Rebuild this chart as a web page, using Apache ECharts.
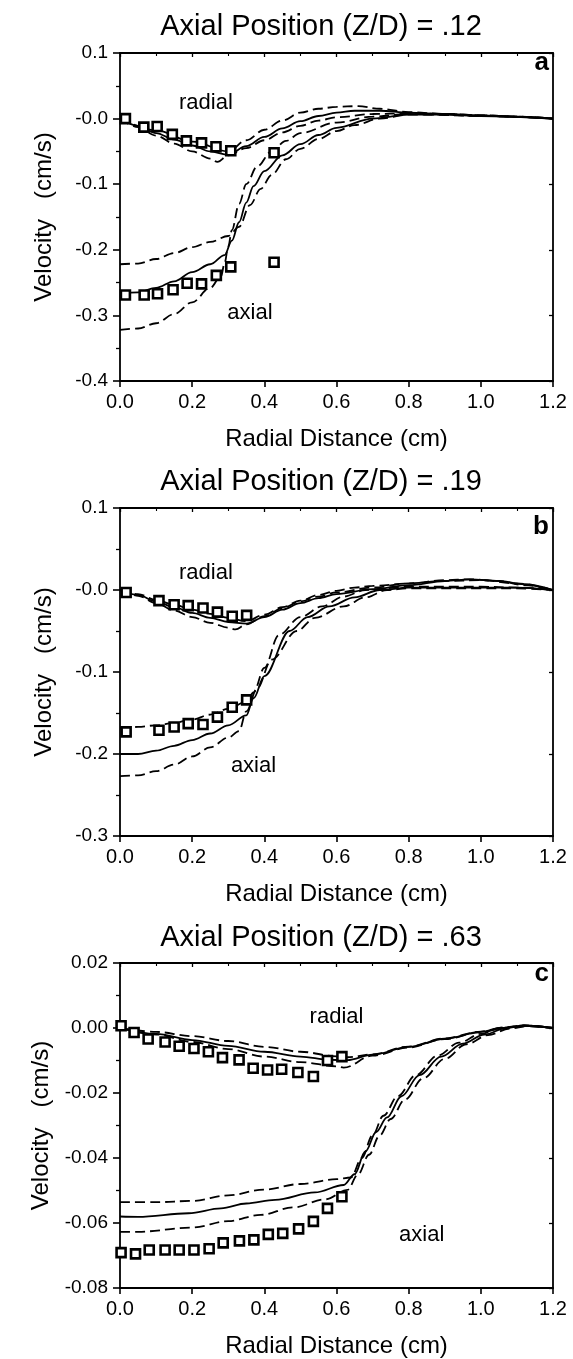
<!DOCTYPE html>
<html>
<head>
<meta charset="utf-8">
<title>Velocity profiles</title>
<script src="https://cdn.jsdelivr.net/npm/echarts@6/dist/echarts.min.js"></script>
<style>
  html, body { margin: 0; padding: 0; background: #fff; }
  #chart { width: 573px; height: 1359px; }
</style>
</head>
<body>
<div id="chart"></div>
<script>
// ---------- data ----------
const titles = ['Axial Position (Z/D) = .12', 'Axial Position (Z/D) = .19', 'Axial Position (Z/D) = .63'];
const panelLetters = ['a', 'b', 'c'];
const xName = 'Radial Distance (cm)';
const yName = 'Velocity   (cm/s)';

const xTickLabels = ['0.0', '0.2', '0.4', '0.6', '0.8', '1.0', '1.2'];
const yTickLabelsA = ['-0.4', '-0.3', '-0.2', '-0.1', '-0.0', '0.1'];
const yTickLabelsB = ['-0.3', '-0.2', '-0.1', '-0.0', '0.1'];
const yTickLabelsC = ['-0.08', '-0.06', '-0.04', '-0.02', '0.00', '0.02'];

// panel a  (Z/D = .12)
const aRadialPts = [[0.015, 0.0], [0.066, -0.013], [0.103, -0.012], [0.145, -0.024], [0.184, -0.034],
  [0.226, -0.037], [0.266, -0.043], [0.307, -0.049]];
const aAxialPts = [[0.015, -0.269], [0.067, -0.269], [0.104, -0.267], [0.147, -0.261], [0.186, -0.251],
  [0.226, -0.252], [0.267, -0.239], [0.307, -0.226], [0.427, -0.219], [0.427, -0.052]];
const aRadialSolid = [[0, 0], [0.05, -0.011], [0.1, -0.022], [0.15, -0.032], [0.2, -0.041], [0.25, -0.05],
  [0.3, -0.055], [0.35, -0.042], [0.4, -0.028], [0.45, -0.015], [0.5, -0.004], [0.55, 0.004], [0.6, 0.009],
  [0.65, 0.012], [0.72, 0.012], [0.8, 0.009], [0.9, 0.007], [1.0, 0.005], [1.1, 0.003], [1.2, 0]];
const aRadialDashHi = [[0, 0], [0.1, -0.018], [0.2, -0.035], [0.3, -0.05], [0.35, -0.033], [0.4, -0.017],
  [0.45, -0.003], [0.5, 0.009], [0.55, 0.015], [0.6, 0.018], [0.66, 0.019], [0.72, 0.015], [0.8, 0.01],
  [0.9, 0.007], [1.0, 0.005], [1.1, 0.003], [1.2, 0]];
const aRadialDashLo = [[0, 0], [0.05, -0.013], [0.1, -0.026], [0.15, -0.038], [0.2, -0.05], [0.25, -0.061],
  [0.27, -0.066], [0.3, -0.056], [0.35, -0.045], [0.4, -0.033], [0.45, -0.021], [0.5, -0.011], [0.55, -0.003],
  [0.6, 0.002], [0.7, 0.007], [0.8, 0.008], [0.9, 0.007], [1.0, 0.005], [1.1, 0.003], [1.2, 0]];
const aAxialSolid = [[0, -0.267], [0.05, -0.265], [0.1, -0.258], [0.15, -0.248], [0.2, -0.234], [0.25, -0.222],
  [0.29, -0.208], [0.31, -0.186], [0.33, -0.158], [0.35, -0.128], [0.37, -0.103], [0.4, -0.08], [0.45, -0.056],
  [0.5, -0.039], [0.55, -0.025], [0.6, -0.014], [0.7, 0.0], [0.8, 0.006], [0.9, 0.006], [1.0, 0.004], [1.2, 0]];
const aAxialDashHi = [[0, -0.222], [0.05, -0.221], [0.1, -0.214], [0.15, -0.205], [0.2, -0.196], [0.25, -0.188],
  [0.3, -0.179], [0.33, -0.165], [0.36, -0.132], [0.39, -0.107], [0.42, -0.086], [0.46, -0.062], [0.5, -0.046],
  [0.55, -0.031], [0.6, -0.019], [0.65, -0.01], [0.72, 0.0], [0.8, 0.006], [0.9, 0.006], [1.0, 0.004], [1.2, 0]];
const aAxialDashLo = [[0, -0.322], [0.05, -0.32], [0.1, -0.312], [0.15, -0.298], [0.2, -0.28], [0.25, -0.258],
  [0.28, -0.24], [0.29, -0.22], [0.3, -0.195], [0.31, -0.17], [0.33, -0.13], [0.35, -0.1], [0.38, -0.073],
  [0.42, -0.05], [0.46, -0.034], [0.5, -0.022], [0.6, -0.006], [0.7, 0.003], [0.8, 0.007], [1.0, 0.004], [1.2, 0]];
const aNotes = [['radial', 0.238, 0.024], ['axial', 0.36, -0.296]];

// panel b  (Z/D = .19)
const bRadialPts = [[0.017, -0.003], [0.108, -0.013], [0.15, -0.018], [0.189, -0.019], [0.23, -0.022],
  [0.27, -0.027], [0.311, -0.032], [0.351, -0.031]];
const bAxialPts = [[0.017, -0.173], [0.108, -0.171], [0.15, -0.167], [0.189, -0.163], [0.23, -0.164],
  [0.27, -0.155], [0.311, -0.143], [0.351, -0.134]];
const bRadialSolid = [[0, 0], [0.05, -0.006], [0.1, -0.014], [0.15, -0.021], [0.2, -0.028], [0.25, -0.034],
  [0.3, -0.039], [0.35, -0.041], [0.4, -0.033], [0.45, -0.024], [0.5, -0.016], [0.55, -0.01], [0.6, -0.005],
  [0.7, 0.001], [0.8, 0.006], [0.9, 0.011], [0.97, 0.013], [1.05, 0.011], [1.12, 0.007], [1.2, 0]];
const bRadialDashHi = [[0, 0], [0.05, -0.005], [0.1, -0.012], [0.15, -0.018], [0.2, -0.024], [0.25, -0.029],
  [0.3, -0.034], [0.35, -0.038], [0.4, -0.03], [0.45, -0.021], [0.5, -0.013], [0.55, -0.006], [0.6, -0.001],
  [0.65, 0.003], [0.7, 0.005], [0.8, 0.008], [0.9, 0.011], [1.0, 0.012], [1.1, 0.008], [1.2, 0]];
const bRadialDashLo = [[0, 0], [0.05, -0.007], [0.1, -0.016], [0.15, -0.025], [0.2, -0.033], [0.25, -0.04],
  [0.3, -0.046], [0.32, -0.048], [0.35, -0.042], [0.4, -0.032], [0.45, -0.022], [0.5, -0.014], [0.55, -0.008],
  [0.6, -0.003], [0.7, 0.003], [0.8, 0.008], [0.9, 0.012], [0.97, 0.013], [1.05, 0.011], [1.12, 0.006], [1.2, 0]];
const bAxialSolid = [[0, -0.2], [0.05, -0.2], [0.1, -0.196], [0.15, -0.19], [0.2, -0.183], [0.25, -0.175],
  [0.3, -0.165], [0.35, -0.153], [0.37, -0.132], [0.4, -0.105], [0.47, -0.05], [0.52, -0.033], [0.58, -0.02],
  [0.65, -0.009], [0.72, 0.0], [0.8, 0.003], [1.0, 0.003], [1.1, 0.003], [1.2, 0]];
const bAxialDashHi = [[0, -0.168], [0.05, -0.167], [0.1, -0.165], [0.15, -0.162], [0.2, -0.158], [0.25, -0.152],
  [0.3, -0.145], [0.35, -0.136], [0.37, -0.125], [0.4, -0.095], [0.44, -0.055], [0.5, -0.033], [0.56, -0.02],
  [0.62, -0.008], [0.68, 0.0], [0.8, 0.004], [1.0, 0.004], [1.1, 0.003], [1.2, 0]];
const bAxialDashLo = [[0, -0.227], [0.05, -0.226], [0.1, -0.221], [0.15, -0.213], [0.2, -0.203], [0.25, -0.192],
  [0.3, -0.18], [0.33, -0.172], [0.35, -0.148], [0.38, -0.12], [0.42, -0.085], [0.49, -0.05], [0.54, -0.034],
  [0.62, -0.02], [0.68, -0.009], [0.74, 0.0], [0.8, 0.002], [1.0, 0.002], [1.1, 0.002], [1.2, 0]];
const bNotes = [['radial', 0.238, 0.021], ['axial', 0.37, -0.215]];

// panel c  (Z/D = .63)
const cRadialPts = [[0.003, 0.0007], [0.039, -0.0014], [0.078, -0.0034], [0.125, -0.0043], [0.164, -0.0056],
  [0.205, -0.0063], [0.245, -0.0073], [0.284, -0.0091], [0.33, -0.0098], [0.369, -0.0124], [0.409, -0.0129],
  [0.448, -0.0127], [0.493, -0.0137], [0.536, -0.0149], [0.575, -0.01], [0.615, -0.0088]];
const cAxialPts = [[0.003, -0.0691], [0.043, -0.0695], [0.081, -0.0683], [0.125, -0.0683], [0.164, -0.0683],
  [0.205, -0.0683], [0.247, -0.0679], [0.286, -0.0661], [0.331, -0.0655], [0.371, -0.0652], [0.411, -0.0635],
  [0.451, -0.0632], [0.495, -0.0618], [0.536, -0.0595], [0.575, -0.0555], [0.615, -0.0519]];
const cRadialSolid = [[0, 0], [0.1, -0.0018], [0.2, -0.0037], [0.3, -0.0055], [0.4, -0.0073], [0.5, -0.0088],
  [0.58, -0.0098], [0.63, -0.0099], [0.7, -0.0082], [0.8, -0.0058], [0.9, -0.0033], [1.0, -0.0012],
  [1.06, 0.0], [1.12, 0.0007], [1.2, 0]];
const cRadialDashHi = [[0, 0], [0.1, -0.0012], [0.2, -0.0025], [0.3, -0.004], [0.4, -0.0058], [0.5, -0.0073],
  [0.6, -0.0087], [0.63, -0.009], [0.7, -0.0081], [0.8, -0.0057], [0.9, -0.0032], [1.0, -0.0011],
  [1.06, 0.0001], [1.12, 0.0008], [1.2, 0]];
const cRadialDashLo = [[0, 0], [0.1, -0.002], [0.2, -0.0043], [0.3, -0.0065], [0.4, -0.0088], [0.5, -0.0105],
  [0.6, -0.0118], [0.62, -0.0122], [0.7, -0.0085], [0.8, -0.006], [0.9, -0.0034], [1.0, -0.0013],
  [1.06, -0.0001], [1.12, 0.0006], [1.2, 0]];
const cAxialSolid = [[0, -0.058], [0.05, -0.0581], [0.19, -0.057], [0.28, -0.0555], [0.35, -0.054],
  [0.43, -0.0529], [0.54, -0.0506], [0.62, -0.0483], [0.65, -0.045], [0.68, -0.038], [0.71, -0.032],
  [0.74, -0.0275], [0.78, -0.021], [0.83, -0.0145], [0.89, -0.0088], [0.95, -0.0048], [1.01, -0.002],
  [1.07, 0.0], [1.12, 0.0007], [1.2, 0]];
const cAxialDashHi = [[0, -0.0536], [0.1, -0.0536], [0.2, -0.0532], [0.3, -0.0515], [0.4, -0.0497],
  [0.5, -0.048], [0.6, -0.0465], [0.64, -0.046], [0.67, -0.04], [0.7, -0.033], [0.73, -0.027], [0.77, -0.021],
  [0.82, -0.0145], [0.88, -0.0085], [0.94, -0.0045], [1.0, -0.0018], [1.06, 0.0002], [1.12, 0.0008], [1.2, 0]];
const cAxialDashLo = [[0, -0.0627], [0.05, -0.0627], [0.2, -0.0614], [0.3, -0.0594], [0.39, -0.0575],
  [0.48, -0.0552], [0.57, -0.0527], [0.63, -0.0498], [0.66, -0.045], [0.69, -0.039], [0.72, -0.033],
  [0.75, -0.028], [0.79, -0.022], [0.84, -0.0155], [0.9, -0.0095], [0.96, -0.005], [1.02, -0.0022],
  [1.08, -0.0002], [1.13, 0.0006], [1.2, 0]];
const cNotes = [['radial', 0.6, 0.0034], ['axial', 0.836, -0.0637]];

// ---------- layout ----------
const FONT = "'Liberation Sans', Arial, Helvetica, sans-serif";
const INK = '#000';
const gridTops = [53, 508, 963];
const gridHeights = [328, 328, 325];
const titleY = [27, 482, 938];
const letterY = [63, 527, 974];

const panels = [
  { yMin: -0.4, yMax: 0.1, yStep: 0.1, yLabels: yTickLabelsA,
    solid: [aRadialSolid, aAxialSolid], dashed: [aRadialDashHi, aRadialDashLo, aAxialDashHi, aAxialDashLo],
    pts: [aRadialPts, aAxialPts], notes: aNotes },
  { yMin: -0.3, yMax: 0.1, yStep: 0.1, yLabels: yTickLabelsB,
    solid: [bRadialSolid, bAxialSolid], dashed: [bRadialDashHi, bRadialDashLo, bAxialDashHi, bAxialDashLo],
    pts: [bRadialPts, bAxialPts], notes: bNotes },
  { yMin: -0.08, yMax: 0.02, yStep: 0.02, yLabels: yTickLabelsC,
    solid: [cRadialSolid, cAxialSolid], dashed: [cRadialDashHi, cRadialDashLo, cAxialDashHi, cAxialDashLo],
    pts: [cRadialPts, cAxialPts], notes: cNotes }
];

function pick(list, min, step) {
  return v => {
    const s = list[Math.round((v - min) / step)];
    return s === undefined ? '' : s;
  };
}

const chart = echarts.init(document.getElementById('chart'), null, { renderer: 'canvas' });

const grid = [], xAxis = [], yAxis = [], series = [], graphic = [];
const lineAxis = { show: true, onZero: false, lineStyle: { color: INK, width: 1.8 } };

panels.forEach((p, i) => {
  grid.push({ left: 120, right: 20, top: gridTops[i], height: gridHeights[i] });
});
// bottom / left axes first, then mirrored top / right borders
panels.forEach((p, i) => {
  xAxis.push({
    type: 'value', gridIndex: i, position: 'bottom', min: 0, max: 1.2, interval: 0.2,
    axisLine: lineAxis,
    axisTick: { show: true, length: 6, lineStyle: { color: INK, width: 1.6 } },
    splitLine: { show: false },
    axisLabel: { fontFamily: FONT, fontSize: 20, color: INK, margin: 11, formatter: pick(xTickLabels, 0, 0.2) },
    name: xName, nameLocation: 'middle', nameGap: 46,
    nameTextStyle: { fontFamily: FONT, fontSize: 24, color: INK }
  });
  yAxis.push({
    type: 'value', gridIndex: i, position: 'left', min: p.yMin, max: p.yMax, interval: p.yStep,
    axisLine: lineAxis,
    axisTick: { show: true, length: 7, lineStyle: { color: INK, width: 1.6 } },
    minorTick: { show: true, splitNumber: 2, length: 4, lineStyle: { color: INK, width: 1.3 } },
    splitLine: { show: false },
    axisLabel: { fontFamily: FONT, fontSize: 19, color: INK, margin: 12, formatter: pick(p.yLabels, p.yMin, p.yStep) },
    name: yName, nameLocation: 'middle', nameGap: 64,
    nameTextStyle: { fontFamily: FONT, fontSize: 24, color: INK }
  });
});
panels.forEach((p, i) => {
  xAxis.push({
    type: 'value', gridIndex: i, position: 'top', min: 0, max: 1.2, interval: 0.2,
    axisLine: lineAxis,
    axisTick: { show: true, inside: true, length: 4, lineStyle: { color: INK, width: 1.3 } },
    minorTick: { show: true, splitNumber: 2, length: 3, lineStyle: { color: INK, width: 1.1 } },
    splitLine: { show: false }, axisLabel: { show: false }
  });
  yAxis.push({
    type: 'value', gridIndex: i, position: 'right', min: p.yMin, max: p.yMax, interval: p.yStep,
    axisLine: lineAxis,
    axisTick: { show: true, inside: true, length: 4, lineStyle: { color: INK, width: 1.3 } },
    splitLine: { show: false }, axisLabel: { show: false }
  });
});

panels.forEach((p, i) => {
  const base = { xAxisIndex: i, yAxisIndex: i, silent: true };
  p.solid.forEach(d => series.push(Object.assign({
    type: 'line', data: d, showSymbol: false, smooth: 0.35, smoothMonotone: 'x',
    lineStyle: { color: INK, width: 1.8 }
  }, base)));
  p.dashed.forEach(d => series.push(Object.assign({
    type: 'line', data: d, showSymbol: false, smooth: 0.35, smoothMonotone: 'x',
    lineStyle: { color: INK, width: 1.8, type: [10, 5] }
  }, base)));
  p.pts.forEach(d => series.push(Object.assign({
    type: 'scatter', data: d, symbol: 'rect', symbolSize: 9, z: 5,
    itemStyle: { color: '#fff', borderColor: INK, borderWidth: 2.6, opacity: 1 }
  }, base)));
  series.push(Object.assign({
    type: 'scatter', symbolSize: 0, z: 6,
    itemStyle: { opacity: 1 },
    data: p.notes.map(n => ({ name: n[0], value: [n[1], n[2]] })),
    label: { show: true, position: 'inside', formatter: '{b}', fontFamily: FONT, fontSize: 22, color: INK }
  }, base));

  graphic.push({
    type: 'text', x: 321, y: titleY[i],
    style: { text: titles[i], fontFamily: FONT, fontSize: 29, fill: INK, textAlign: 'center', textVerticalAlign: 'middle' }
  });
  graphic.push({
    type: 'text', x: 549, y: letterY[i],
    style: { text: panelLetters[i], fontFamily: FONT, fontSize: 26, fontWeight: 'bold', fill: INK,
      textAlign: 'right', textVerticalAlign: 'middle' }
  });
});

chart.setOption({
  backgroundColor: '#fff',
  animation: false,
  grid: grid,
  xAxis: xAxis,
  yAxis: yAxis,
  series: series,
  graphic: graphic
});
</script>
</body>
</html>
